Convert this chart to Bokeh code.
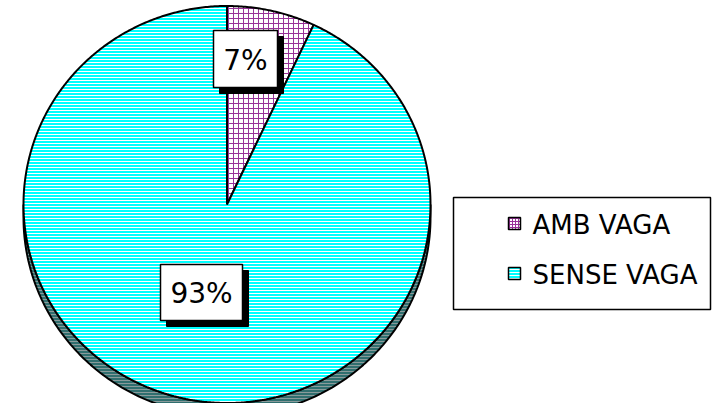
import numpy as np
from bokeh.plotting import figure
from bokeh.models import Range1d
from bokeh.embed import file_html
from bokeh.resources import INLINE
from bokeh.core.properties import value

# ---- data ----
categories = ["AMB VAGA", "SENSE VAGA"]
values = [7, 93]
labels = ["7%", "93%"]

# ---- geometry (image pixel coordinates) ----
CX, CY = 226.5, 204.0
RX, RY = 203.5, 198.5
DEPTH = 13
FONT = "DejaVu Sans"

p = figure(width=712, height=403, output_backend="svg", toolbar_location=None,
           x_range=Range1d(0, 712), y_range=Range1d(403, 0),
           min_border=0, outline_line_color=None)
p.axis.visible = False
p.grid.visible = False
p.background_fill_color = "white"
p.border_fill_color = "white"


def ell(t_deg, dy=0.0):
    t = np.radians(t_deg)
    return CX + RX * np.cos(t), CY - RY * np.sin(t) + dy


# depth band (bottom half of the pie)
ts = np.linspace(0, -180, 200)
x1, y1 = ell(ts)
x2, y2 = ell(ts[::-1], DEPTH)
p.patch(list(x1) + list(x2), list(y1) + list(y2),
        fill_color="#2f6f6f", hatch_pattern="horizontal_line",
        hatch_color="#8a9a9a", hatch_scale=3, hatch_weight=1,
        line_color="black", line_width=2)

# slices
fills = ["white", "#00ffff"]
hatches = ["cross", "horizontal_line"]
hcolors = ["#993399", "white"]
hscale = [5, 3]
total = float(sum(values))
cum = 0.0
for i, v in enumerate(values):
    a0 = 90 - cum / total * 360
    a1 = 90 - (cum + v) / total * 360
    cum += v
    t = np.linspace(a0, a1, max(20, int(abs(a1 - a0) * 2)))
    ex, ey = ell(t)
    xs = [CX] + list(ex) + [CX]
    ys = [CY] + list(ey) + [CY]
    p.patch(xs, ys, fill_color=fills[i], hatch_pattern=hatches[i],
            hatch_color=hcolors[i], hatch_scale=hscale[i], hatch_weight=1,
            line_color="black", line_width=2)

# percentage labels with drop-shadow boxes
label_boxes = [(213, 30, 277, 87), (160, 264, 242, 320)]
SH = 6
for (l, tp, r, b), txt in zip(label_boxes, labels):
    p.quad(left=[l + SH], right=[r + SH], top=[tp + SH], bottom=[b + SH],
           fill_color="black", line_color="black")
    p.quad(left=[l], right=[r], top=[tp], bottom=[b],
           fill_color="white", line_color="black", line_width=1.5)
    p.text(x=[(l + r) / 2], y=[(tp + b) / 2 + 1], text=[txt],
           text_font=value(FONT), text_font_size="28px",
           text_align="center", text_baseline="middle", text_color="black")

# legend
p.quad(left=[453], right=[710], top=[197], bottom=[309],
       fill_color="white", line_color="black", line_width=1.5)
leg_y = [223, 273]
for i, cat in enumerate(categories):
    yy = leg_y[i]
    p.quad(left=[508], right=[520], top=[yy - 6], bottom=[yy + 6],
           fill_color=fills[i], hatch_pattern=hatches[i], hatch_color=hcolors[i],
           hatch_scale=3, hatch_weight=1,
           line_color="black", line_width=1.5)
    p.text(x=[532], y=[yy + 1], text=[cat], text_font=value(FONT),
           text_font_size="26px", text_align="left", text_baseline="middle",
           text_color="black")

open("out.html", "w").write(file_html(p, INLINE))
